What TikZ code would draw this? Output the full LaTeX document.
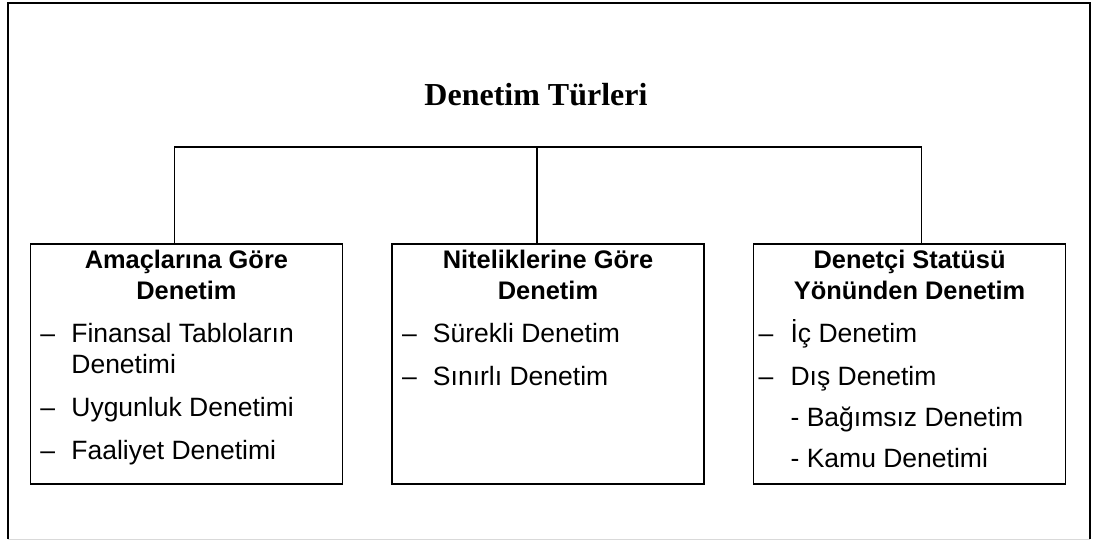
\documentclass[tikz,border=0pt]{standalone}
\usepackage{fontspec}
\setmainfont{Liberation Sans}
\newfontfamily\baslikfont{Liberation Serif}
\usetikzlibrary{positioning}

\newlength{\tiresol}
\newlength{\metinsol}
\newcommand{\kutu}[4]{\parbox[t][120pt][t]{156pt}{\fontsize{13.25pt}{15.5pt}\selectfont
    \setlength{\tiresol}{#1}\setlength{\metinsol}{#2}%
    {\centering\bfseries\fontsize{12.7pt}{15.5pt}\selectfont\rule{0pt}{12.5pt}#3\par}\raggedright #4}}
\newcommand{\madde}[1]{\par\vspace{6pt}\hangindent=\metinsol\hangafter=1\noindent\makebox[\metinsol][l]{\hspace{\tiresol}--}#1}
\newcommand{\altmadde}[1]{\par\vspace{5pt}\noindent\hspace*{\metinsol}#1}

\begin{document}
\begin{tikzpicture}[node distance={24pt}, x=0.5pt, y=-0.5pt, box/.style = {draw, line width=0.8pt, inner sep=0pt}]
            \useasboundingbox (0,0) rectangle (1100,541);
            \draw[line width=0.8pt] (8,539) -- (8,3) -- (1090,3) -- (1090,539);
            \draw[black!15] (8,539) -- (1090,539);

            \node[anchor=base] (0) at (536,105) {\baslikfont\bfseries\fontsize{16pt}{19pt}\selectfont Denetim Türleri};
            \node[box, anchor=north] (2) at (548,243) {\kutu{5pt}{20.5pt}{Niteliklerine Göre\\Denetim}{\madde{Sürekli Denetim}\madde{Sınırlı Denetim}}};
            \node[box] (1) [left=of 2] {\kutu{5pt}{20.5pt}{Amaçlarına Göre\\Denetim}{\madde{Finansal Tabloların\newline Denetimi}\madde{Uygunluk Denetimi}\madde{Faaliyet Denetimi}}};
            \node[box] (3) [right=of 2] {\kutu{2.5pt}{18.5pt}{Denetçi Statüsü\\Yönünden Denetim}{\madde{İç Denetim}\madde{Dış Denetim}\altmadde{- Bağımsız Denetim}\altmadde{- Kamu Denetimi}}};

            \coordinate (dal) at (537,147);
            \draw[line width=0.6pt] ([xshift=-6pt]1.north) |- (dal);
            \draw[line width=0.6pt] (dal) -| ([xshift=6pt]3.north);
            \draw[line width=0.6pt] (dal) -- ([xshift=-5.5pt]2.north);
        \end{tikzpicture}
\end{document}
